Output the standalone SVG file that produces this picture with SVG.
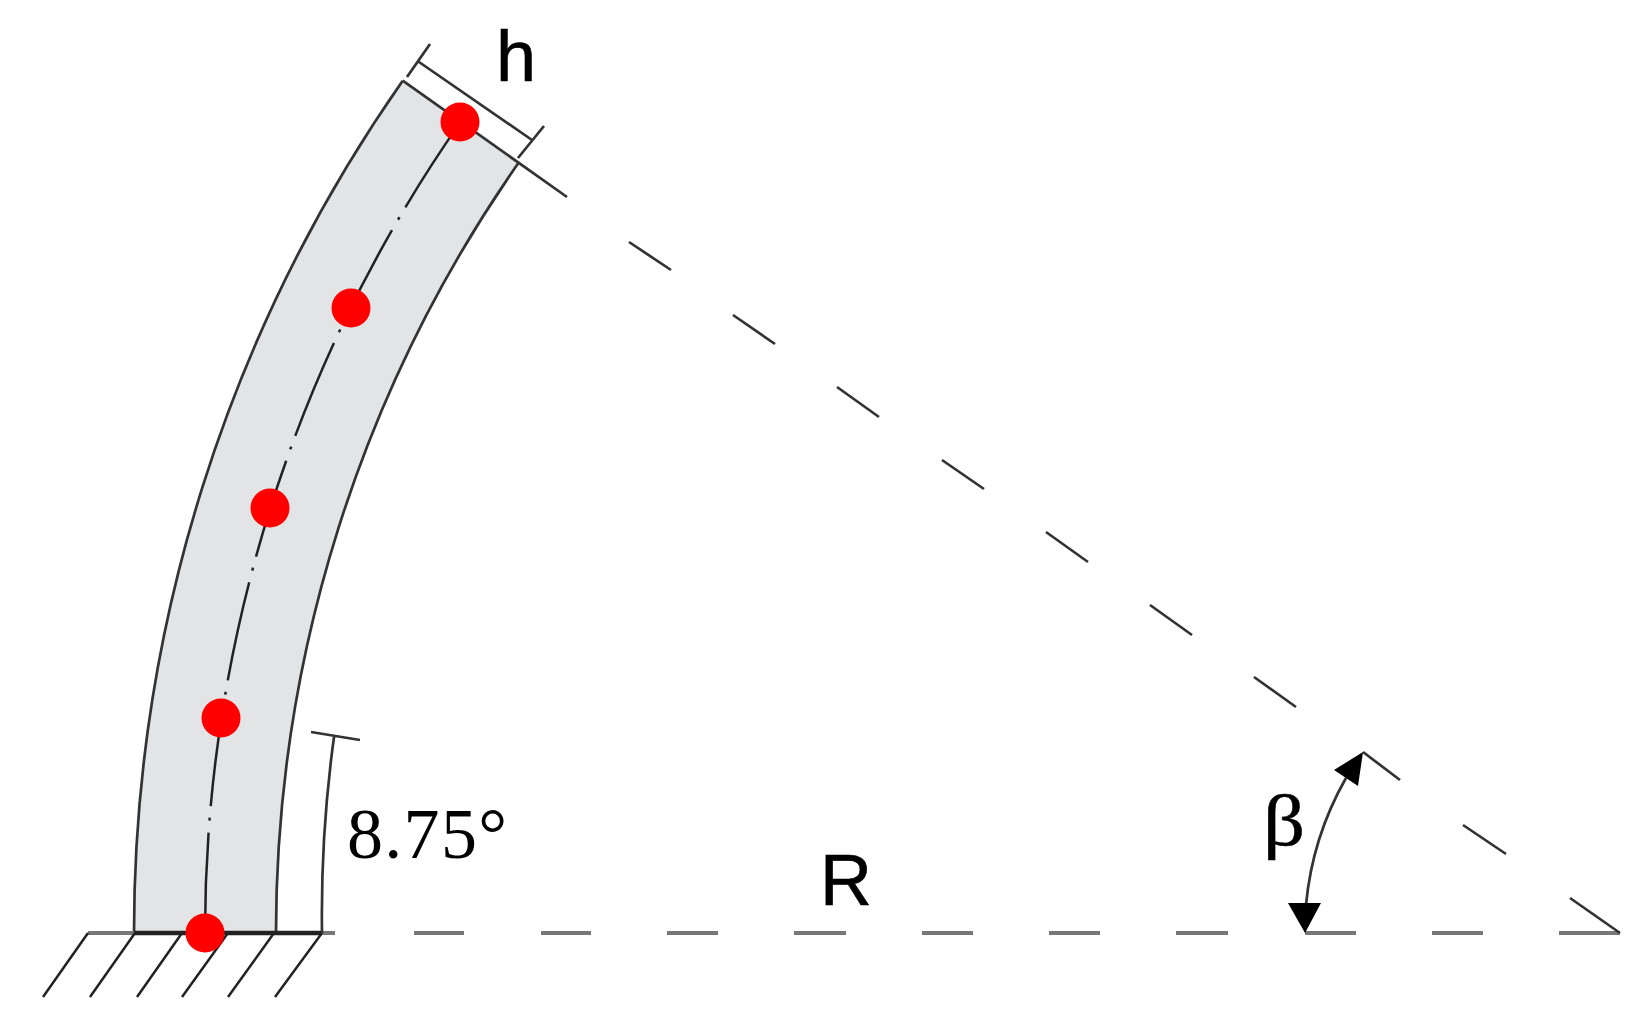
<svg xmlns="http://www.w3.org/2000/svg" width="1650" height="1020" viewBox="0 0 1650 1020">
  <style>
    .edge{fill:none;stroke:#333;stroke-width:2.7}
    .thin{fill:none;stroke:#222;stroke-width:2.5}
    .grey{fill:none;stroke:#777;stroke-width:4}
    .dot{fill:#ff0000}
    .sans{font-family:"Liberation Sans",Arial,sans-serif;font-size:72px;fill:#000}
    .serif{font-family:"Liberation Serif","Times New Roman",serif;font-size:72px;fill:#000}
  </style>
  <rect width="1650" height="1020" fill="#fff"/>
  <g id="band">
    <path d="M134,933 A1486,1486 0 0 1 402.7,80.7 L519.1,162.1 A1344,1344 0 0 0 276,933 Z" fill="#e3e4e6"/>
    <path class="edge" d="M134,933 A1486,1486 0 0 1 402.7,80.7"/>
    <path class="edge" d="M276,933 A1344,1344 0 0 1 519.1,162.1"/>
  </g>
  <g id="connectors">
    <path id="baseline" class="grey" d="M88,933H335M414,933H464M541,933H591M667,933H718M794,933H846M922,933H973M1049,933H1100M1176,933H1228M1305,933H1356M1432,933H1483M1559,933H1620"/>
    <path id="fixed-edge" d="M134,933H322" fill="none" stroke="#222" stroke-width="4.5"/>
    <path id="hatching" class="thin" d="M88,933L43,997M135,933L90,997M182,933L137,997M228,933L182,997M274,933L228,997M322,933L275,997"/>
    <path id="centerline" class="thin" d="M205,933 A1415,1415 0 0 1 461,121.4" stroke-dasharray="100.5 12 3 11.5"/>
    <path id="top-edge" class="edge" d="M402.7,80.7L567,197"/>
    <path id="radial-dashes" class="edge" d="M629,242L671,270M733,315L775,344M837,387L879,417M942,460L984,489M1046,532L1088,562M1150,605L1192,635M1254,677L1296,707M1363,752L1400,780M1463,825L1506,854M1570,898L1620,933"/>
    <path id="dim-h" class="edge" d="M407,77L430,44M419,62L532,140M518,158L544,126"/>
    <path id="dim-angle" class="edge" d="M322,933 A1300,1300 0 0 1 334,737M311,732L360,740"/>
    <path id="beta-arc" class="edge" d="M1306,905 A315,315 0 0 1 1346,778"/>
    <path id="beta-head-low" d="M1288,903H1321L1305,933Z" fill="#000"/>
    <path id="beta-head-high" d="M1363,752L1334,770L1358,786Z" fill="#000"/>
  </g>
  <g id="node-1"><circle class="dot" cx="205" cy="933" r="19.5"/></g>
  <g id="node-2"><circle class="dot" cx="221" cy="718" r="19.5"/></g>
  <g id="node-3"><circle class="dot" cx="270" cy="508" r="19.5"/></g>
  <g id="node-4"><circle class="dot" cx="351" cy="308" r="19.5"/></g>
  <g id="node-5"><circle class="dot" cx="460" cy="122" r="19.5"/></g>
  <g id="labels">
    <text class="sans" x="496" y="81" stroke="#000" stroke-width="0.6">h</text>
    <text class="sans" x="820" y="905" stroke="#000" stroke-width="0.6">R</text>
    <text class="serif" x="347" y="858" letter-spacing="1.3">8.75°</text>
    <text class="serif" transform="translate(1263 845) scale(1.15 1)" stroke="#000" stroke-width="0.5">β</text>
  </g>
</svg>
